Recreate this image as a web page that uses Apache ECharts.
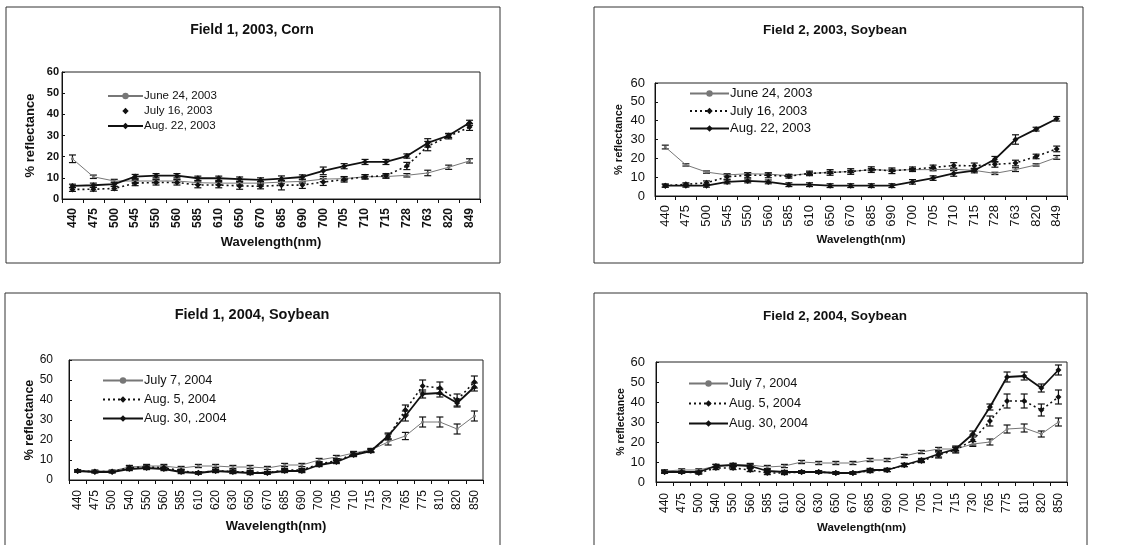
<!DOCTYPE html>
<html>
<head>
<meta charset="utf-8">
<script src="https://cdn.jsdelivr.net/npm/echarts@6/dist/echarts.min.js"></script>
<style>html,body{margin:0;padding:0;background:#fff;}#c{width:1127px;height:545px;}</style>
</head>
<body>
<div id="c"></div>
<script>
// ---------- DATA ----------
const titles = ['Field 1, 2003, Corn', 'Field 2, 2003, Soybean', 'Field 1, 2004, Soybean', 'Field 2, 2004, Soybean'];
const cats2003 = ['440','475','500','545','550','560','585','610','650','670','685','690','700','705','710','715','728','763','820','849'];
const cats2004 = ['440','475','500','540','550','560','585','610','620','630','650','670','685','690','700','705','710','715','730','765','775','810','820','850'];
const yTicks = [0, 10, 20, 30, 40, 50, 60];
const names2003 = ['June 24, 2003', 'July 16, 2003', 'Aug. 22, 2003'];
const names2004a = ['July 7, 2004', 'Aug. 5, 2004', 'Aug. 30, .2004'];
const names2004b = ['July 7, 2004', 'Aug. 5, 2004', 'Aug. 30, 2004'];

// Field 1, 2003, Corn
const f1c_june = [19, 10.5, 8.5, 8.5, 8.5, 8.5, 7.7, 7.5, 7.5, 7.5, 8, 8.3, 9.4, 9.6, 10.5, 10.6, 11.2, 12.3, 15, 18];
const f1c_june_err = [1.8, 0.8, 0.8, 0.8, 0.8, 0.8, 0.8, 0.8, 0.8, 0.8, 0.8, 0.8, 1.2, 1, 1, 0.8, 0.8, 1.3, 1, 1];
const f1c_july = [4.5, 4.6, 5, 7.5, 7.8, 7.8, 6.6, 6.6, 6.2, 6, 6.5, 6.6, 8, 9.2, 10.5, 11, 15.6, 25, 29.6, 34];
const f1c_july_err = [0.9, 0.9, 0.9, 1.2, 1.2, 1.2, 1.3, 1.3, 1.6, 1.2, 2.2, 1.6, 1.6, 1.2, 1, 1, 1.7, 2.2, 1.2, 1.6];
const f1c_aug = [6.2, 6.5, 7, 10.6, 11, 11, 9.8, 9.8, 9.4, 9, 9.6, 10.4, 13.3, 15.5, 17.5, 17.5, 20.3, 26.5, 30, 36];
const f1c_aug_err = [0.8, 1, 1, 1, 1, 1, 1, 1, 1, 1, 1.3, 1, 1.8, 1.2, 1.2, 1.2, 1, 2, 1, 1.2];

// Field 2, 2003, Soybean
const f2s_june = [26, 16.5, 12.7, 11.2, 11.8, 11.6, 10.8, 12, 12.5, 13, 14, 13.6, 14, 14, 14.2, 13.6, 12, 14, 16.5, 20.5];
const f2s_june_err = [1, 0.6, 0.6, 0.6, 0.6, 0.6, 0.6, 0.6, 0.6, 0.6, 0.6, 0.6, 0.6, 0.6, 0.6, 0.6, 0.6, 1, 0.6, 1];
const f2s_july = [5.5, 6.2, 7, 10.2, 11, 11, 10.5, 12, 12.5, 13, 14, 13.4, 14.2, 15.2, 16.2, 16, 16.8, 17.5, 21, 25];
const f2s_july_err = [0.8, 0.8, 1, 1.3, 1.3, 1.3, 1, 1.2, 1.5, 1.5, 1.5, 1.5, 1.2, 1.2, 1.5, 1.5, 1.5, 1.5, 1.2, 1.5];
const f2s_aug = [5.5, 5.5, 5.5, 7.5, 8, 7.5, 6, 6, 5.5, 5.5, 5.5, 5.5, 7.5, 9.5, 12, 13.5, 19.5, 30, 35.5, 41];
const f2s_aug_err = [0.8, 0.8, 0.8, 1, 1, 1, 1, 1, 1, 1, 1, 1, 1.2, 1.2, 1.5, 1.2, 1.5, 2.5, 1, 1.2];

// Field 1, 2004, Soybean
const f1s_jul = [4.5, 4.5, 4.5, 6.5, 7, 7, 6, 7, 7, 6.5, 6.5, 6, 7.5, 7.5, 10, 11.5, 13.5, 15, 19, 22, 29, 29, 25.5, 32];
const f1s_jul_err = [0.5, 0.5, 0.5, 0.8, 0.8, 0.8, 0.8, 0.8, 0.8, 0.8, 0.8, 0.8, 0.8, 0.8, 0.8, 0.8, 0.8, 0.8, 1.5, 1.8, 2.5, 2.5, 2.5, 2.5];
const f1s_aug5 = [4.5, 4.2, 4.2, 6.2, 6.5, 6.2, 4.6, 3.6, 4.6, 4.2, 4.0, 3.6, 5, 5, 8, 9.6, 13, 14.6, 21.5, 35, 47, 46, 40, 49];
const f1s_aug5_err = [0.5, 0.5, 0.5, 0.8, 0.8, 0.8, 0.8, 0.6, 0.8, 0.8, 0.8, 0.6, 0.8, 0.8, 0.8, 0.8, 0.8, 0.8, 1.5, 2.5, 3, 3, 3, 3];
const f1s_aug30 = [4.5, 4, 4, 5.5, 6, 5.5, 4, 3.5, 4.5, 4, 3.5, 3.5, 4.5, 4.5, 7.5, 9, 12.5, 14.5, 22, 32, 43, 43.5, 38.5, 46.5];
const f1s_aug30_err = [0.5, 0.5, 0.5, 0.8, 0.8, 0.8, 0.8, 0.6, 0.8, 0.8, 0.8, 0.6, 0.8, 0.8, 0.8, 0.8, 0.8, 0.8, 1.5, 2.5, 2, 2, 2, 2];

// Field 2, 2004, Soybean
const f2s4_jul = [5.5, 6, 6, 8, 8.5, 8.5, 7.5, 8, 10, 9.5, 9.5, 9.5, 11, 11, 13, 15, 16.5, 16.5, 19, 20, 26.5, 27, 24, 30];
const f2s4_jul_err = [0.6, 0.6, 0.6, 0.8, 0.8, 0.8, 0.8, 0.8, 0.8, 0.8, 0.8, 0.8, 0.8, 0.8, 0.8, 0.8, 0.8, 0.8, 1.2, 1.5, 2, 2, 1.5, 2];
const f2s4_aug5 = [5, 5, 4.5, 7, 7, 6, 4.5, 4.5, 5, 5, 4.5, 4.5, 5.5, 6, 8.5, 10.5, 13.5, 16, 21, 30.5, 40.5, 40.5, 36, 42.5];
const f2s4_aug5_err = [0.6, 0.6, 0.6, 0.8, 0.8, 0.8, 0.8, 0.8, 0.6, 0.6, 0.6, 0.6, 0.8, 0.8, 0.8, 0.8, 1.5, 1.5, 2.5, 2.5, 3.5, 3.5, 3, 3.5];
const f2s4_aug30 = [5, 5, 5, 8, 8.5, 8, 5.5, 5, 5, 5, 4.5, 4.5, 6, 6, 8.5, 11, 14, 16.5, 24, 37.5, 52.5, 53, 47, 56];
const f2s4_aug30_err = [0.6, 0.6, 0.6, 0.8, 0.8, 0.8, 0.8, 0.8, 0.6, 0.6, 0.6, 0.6, 0.8, 0.8, 0.8, 0.8, 1.5, 1.5, 1.5, 1.5, 2.5, 2, 2, 2.5];

// ---------- LAYOUT ----------
const FONT = '"Liberation Sans", Arial, sans-serif';
const grids = [
  {left: 62, top: 72, width: 418, height: 127},
  {left: 655, top: 83, width: 412, height: 113},
  {left: 69, top: 360, width: 414, height: 120},
  {left: 656, top: 362, width: 411, height: 120}
];
const L = [ // per-panel text and placement
  {title: [252, 23, 14], legend: [107, 90, 11.5, 35, 3], yName: [13, 25], xName: [13, 37], yLab: [11, 'bold', 3], xLab: [12, 'bold', 9]},
  {title: [835, 23, 13.5], legend: [689, 87, 13, 39, 4.5], yName: [11, 31], xName: [11.5, 38], yLab: [13, 'normal', 10], xLab: [13, 'normal', 9]},
  {title: [252, 307, 14.5], legend: [102, 374, 12.7, 40, 6], yName: [12.5, 26], xName: [13, 40], yLab: [12, 'normal', 16], xLab: [12, 'normal', 10]},
  {title: [835, 309, 13.5], legend: [688, 377, 12.7, 39, 7], yName: [10.5, 29], xName: [11.5, 40], yLab: [13, 'normal', 11], xLab: [12, 'normal', 11]}
];
const frames = [[6, 7, 494, 256], [594, 7, 489, 256], [5, 293, 495, 260], [594, 293, 493, 260]];

const panels = [
  {cats: cats2003, names: names2003, vals: [f1c_june, f1c_july, f1c_aug], errs: [f1c_june_err, f1c_july_err, f1c_aug_err]},
  {cats: cats2003, names: names2003, vals: [f2s_june, f2s_july, f2s_aug], errs: [f2s_june_err, f2s_july_err, f2s_aug_err]},
  {cats: cats2004, names: names2004a, vals: [f1s_jul, f1s_aug5, f1s_aug30], errs: [f1s_jul_err, f1s_aug5_err, f1s_aug30_err]},
  {cats: cats2004, names: names2004b, vals: [f2s4_jul, f2s4_aug5, f2s4_aug30], errs: [f2s4_jul_err, f2s4_aug5_err, f2s4_aug30_err]}
];

const styles = [
  {color: '#777', width: 1, type: 'solid', symbol: 'circle', size: 3},
  {color: '#111', width: 1.6, type: [2, 3], symbol: 'diamond', size: 6},
  {color: '#111', width: 1.8, type: 'solid', symbol: 'diamond', size: 6}
];

function errRender(params, api) {
  const x = api.value(0);
  const lo = api.coord([x, api.value(1)]);
  const hi = api.coord([x, api.value(2)]);
  const w = 3.5;
  const st = {stroke: '#111', lineWidth: 1.2};
  return {type: 'group', children: [
    {type: 'line', shape: {x1: lo[0], y1: lo[1], x2: hi[0], y2: hi[1]}, style: st},
    {type: 'line', shape: {x1: lo[0] - w, y1: lo[1], x2: lo[0] + w, y2: lo[1]}, style: st},
    {type: 'line', shape: {x1: hi[0] - w, y1: hi[1], x2: hi[0] + w, y2: hi[1]}, style: st}
  ]};
}

const option = {
  animation: false,
  backgroundColor: '#fff',
  title: [], grid: [], xAxis: [], yAxis: [], legend: [], series: [],
  graphic: frames.map(f => ({type: 'rect', shape: {x: f[0], y: f[1], width: f[2], height: f[3]},
    style: {fill: 'none', stroke: '#333', lineWidth: 1}, silent: true, z: -1}))
};

panels.forEach((p, gi) => {
  const c = L[gi];
  option.title.push({text: titles[gi], left: c.title[0], top: c.title[1], textAlign: 'center', padding: 0,
    textStyle: {fontFamily: FONT, fontSize: c.title[2], fontWeight: 'bold', color: '#111'}});
  option.grid.push(Object.assign({show: true, borderColor: '#222', borderWidth: 1, backgroundColor: '#fff'}, grids[gi]));
  option.xAxis.push({type: 'category', gridIndex: gi, data: p.cats, boundaryGap: true,
    name: 'Wavelength(nm)', nameLocation: 'middle', nameGap: c.xName[1],
    nameTextStyle: {fontFamily: FONT, fontSize: c.xName[0], fontWeight: 'bold', color: '#111'},
    axisLine: {lineStyle: {color: '#111', width: 1}},
    axisTick: {show: true, interval: 0, length: 4, lineStyle: {color: '#111'}},
    axisLabel: {interval: 0, rotate: 90, fontFamily: FONT, fontSize: c.xLab[0], fontWeight: c.xLab[1], color: '#111', margin: c.xLab[2]},
    splitLine: {show: false}});
  option.yAxis.push({type: 'value', gridIndex: gi, min: yTicks[0], max: yTicks[yTicks.length - 1], interval: 10,
    name: '% reflectance', nameLocation: 'middle', nameGap: c.yName[1], nameRotate: 90,
    nameTextStyle: {fontFamily: FONT, fontSize: c.yName[0], fontWeight: 'bold', color: '#111'},
    axisLine: {show: true, lineStyle: {color: '#111', width: 1}},
    axisTick: {show: true, inside: true, length: 3, lineStyle: {color: '#111'}},
    axisLabel: {fontFamily: FONT, fontSize: c.yLab[0], fontWeight: c.yLab[1], color: '#111', margin: c.yLab[2]},
    splitLine: {show: false}});
  const legData = p.names.map((n, i) => (gi === 0 && i === 1) ? {name: n, lineStyle: {opacity: 0}} : {name: n});
  option.legend.push({left: c.legend[0], top: c.legend[1], orient: 'vertical', itemWidth: c.legend[3], itemHeight: 8,
    itemGap: c.legend[4], padding: 0, data: legData, selectedMode: false,
    textStyle: {fontFamily: FONT, fontSize: c.legend[2], color: '#111', padding: [0, 0, 0, -4]}});
  p.vals.forEach((v, si) => {
    const s = styles[si];
    option.series.push({type: 'custom', xAxisIndex: gi, yAxisIndex: gi, renderItem: errRender, silent: true, z: 3,
      data: v.map((y, i) => [i, y - p.errs[si][i], y + p.errs[si][i]])});
    option.series.push({type: 'line', name: p.names[si], xAxisIndex: gi, yAxisIndex: gi, data: v,
      symbol: s.symbol, symbolSize: s.size, showSymbol: true, z: 4,
      itemStyle: {color: s.color}, lineStyle: {color: s.color, width: s.width, type: s.type}});
  });
});

const chart = echarts.init(document.getElementById('c'), null, {renderer: 'canvas'});
chart.setOption(option);
</script>
</body>
</html>
